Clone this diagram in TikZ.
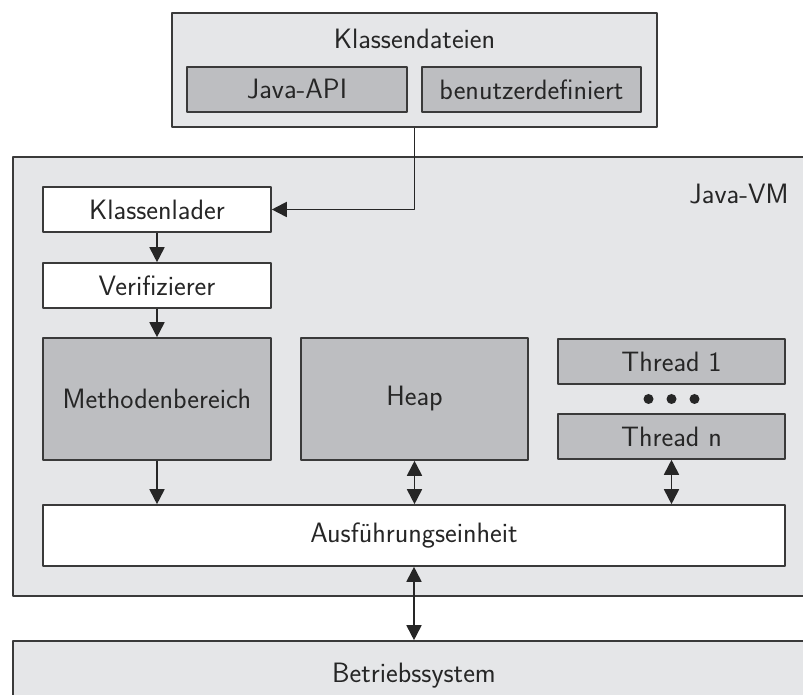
\documentclass[tikz,border=0pt]{standalone}
\usetikzlibrary{arrows.meta}
\definecolor{hell}{HTML}{E5E6E8}
\definecolor{dunkel}{HTML}{BDBEC1}
\definecolor{rand}{HTML}{3A3A3A}
\begin{document}
\begin{tikzpicture}[x=1pt,y=1pt,font=\sffamily\fontsize{28}{32}\selectfont,line join=round,
		>={Triangle[length=15pt,width=15pt]},
		box/.style={draw=rand,line width=1.6pt,rectangle,inner sep=0pt,minimum height=45pt,minimum width=228pt,text=black!85},
		hellbox/.style={box,fill=hell},
		grau/.style={box,fill=dunkel},
		weiss/.style={box,fill=white},
		pfeil/.style={line width=1.8pt,draw=black!85}]
			\useasboundingbox (0,0) rectangle (803,695);
			\clip (0,0) rectangle (803,695);
			% Klassendateien
			\node[hellbox,minimum width=485pt,minimum height=114pt] (kd) at (414.5,625) {};
			\node[text=black!85] (kdtext) at (414.5,656) {Klassendateien};
			\node[grau,minimum width=220pt] (api) at (297,605.5) {Java-API};
			\node[grau,minimum width=219pt] (user) at (531.5,605.5) {benutzerdefiniert};
			% Java-VM
			\node[hellbox,minimum width=810pt,minimum height=439pt] (jvm) at (418,318.5) {};
			\node[anchor=east,text=black!85] (jvmtext) at (792,501) {Java-VM};
			\node[weiss] (kl) at (157,485.5) {Klassenlader};
			\node[weiss] (vf) at (157,409.5) {Verifizierer};
			\node[grau,minimum height=122pt] (mb) at (157,296) {Methodenbereich};
			\node[grau,minimum width=227pt,minimum height=122pt] (hp) at (414.5,296) {Heap};
			\node[grau,minimum width=227pt] (t1) at (671.5,333.5) {Thread 1};
			\node[grau,minimum width=227pt] (tn) at (671.5,258.5) {Thread n};
			\foreach \i in {-1,0,1} \fill[black!85] (671.5+23*\i,296) circle (5pt);
			\node[weiss,minimum width=742pt,minimum height=61pt] (au) at (414,159.5) {Ausf\"uhrungseinheit};
			% Betriebssystem
			\node[hellbox,minimum width=810pt,minimum height=100pt] (bs) at (418,4) {};
			\node[text=black!85] (bstext) at (414,19) {Betriebssystem};
			% Pfeile
			\draw[pfeil,->] (kd.south) |- (kl.east);
			\draw[pfeil,->] (kl) -- (vf);
			\draw[pfeil,->] (vf) -- (mb);
			\draw[pfeil,->] (mb) -- (mb |- au.north);
			\draw[pfeil,<->] (hp) -- (hp |- au.north);
			\draw[pfeil,<->] (tn) -- (tn |- au.north);
			\draw[pfeil,<->] (au) -- (au.south |- bs.north);
		\end{tikzpicture}
\end{document}
